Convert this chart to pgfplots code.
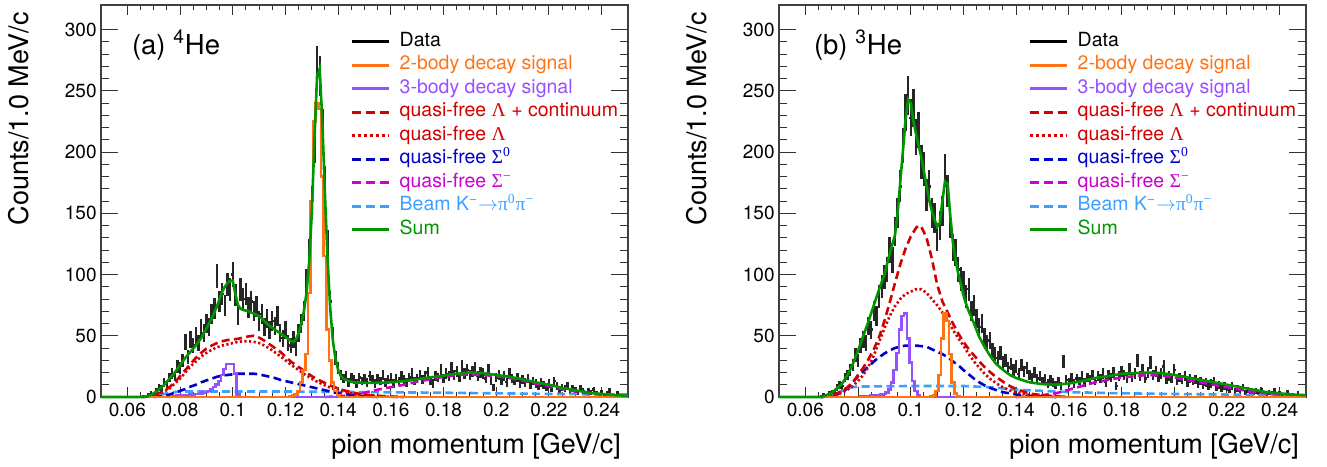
\documentclass[border=0pt]{standalone}
\usepackage{fontspec}
\setmainfont{TeX Gyre Heros}
\newfontfamily\grk{Liberation Serif}
\usepackage{pgfplots}
\pgfplotsset{compat=1.18}
\usepackage{xcolor}
\definecolor{corange}{RGB}{255,115,20}
\definecolor{cpurple}{RGB}{150,80,255}
\definecolor{cred}{RGB}{210,0,0}
\definecolor{cblue}{RGB}{0,0,200}
\definecolor{cmag}{RGB}{205,0,205}
\definecolor{cazure}{RGB}{60,160,255}
\definecolor{cgreen}{RGB}{0,150,0}

\pgfplotsset{
  he/.style={
    scale only axis, width=263.5pt, height=196pt,
    xmin=50, xmax=250, ymin=0, ymax=320, clip=false,
    xtick={60,80,...,240},
    xticklabels={0.06,0.08,0.1,0.12,0.14,0.16,0.18,0.2,0.22,0.24},
    minor x tick num=3,
    ytick={0,50,...,300}, minor y tick num=4,
    tick align=inside, tick pos=both,
    xtick style={/pgfplots/major tick length=5pt,/pgfplots/minor tick length=2.5pt},
    ytick style={/pgfplots/major tick length=8.5pt,/pgfplots/minor tick length=4pt},
    every tick/.append style={black!80, line width=0.5pt},
    axis line style={black!75, line width=0.6pt},
    /pgf/number format/assume math mode=true,
    xticklabel style={font=\fontsize{9.5}{11}\selectfont, inner sep=0pt, yshift=-3pt},
    yticklabel style={font=\fontsize{9.5}{11}\selectfont, inner sep=0pt, xshift=-2pt},
    every axis y label/.style={at={(axis description cs:-0.1556,1)}, rotate=90, anchor=east,
      font=\fontsize{13.5}{16}\selectfont},
    every axis x label/.style={at={(axis description cs:1,-0.1429)}, anchor=base east,
      font=\fontsize{13.5}{16}\selectfont},
    xlabel={pion momentum [GeV/c]},
    ylabel={Counts/1.0 MeV/c},
    legend image code/.code={\draw[##1] (0pt,0pt) -- (18.5pt,0pt);},
    legend cell align=left,
    legend style={draw=none, fill=none, at={(rel axis cs:0.4725,0.936)}, anchor=north west,
      inner sep=0pt, outer sep=0pt, font=\fontsize{9.75}{11}\selectfont,
      row sep=0pt, column sep=0pt,
      nodes={inner ysep=0pt, inner xsep=4.75pt, text height=8.2pt, text depth=3.55pt}},
  },
  dat/.style={draw=none, mark=none, forget plot,
    error bars/.cd, x dir=both, x fixed=0.5, y dir=both, y explicit, error mark=none,
    error bar style={draw=black!85, solid, line width=1.2pt}},
  cv/.style={line width=1.3pt, forget plot},
  dsh/.style={dash pattern=on 4pt off 2.2pt},
  dot/.style={dash pattern=on 1.1pt off 1.2pt},
}

\newcommand\hlegend{%
  \addlegendimage{black, line width=1.6pt}
  \addlegendentry{Data}
  \addlegendimage{corange, line width=1.6pt}
  \addlegendentry{\textcolor{corange}{2-body decay signal}}
  \addlegendimage{cpurple, line width=1.6pt}
  \addlegendentry{\textcolor{cpurple}{3-body decay signal}}
  \addlegendimage{cred, line width=1.6pt, dash pattern=on 4.5pt off 2.5pt}
  \addlegendentry{\textcolor{cred}{quasi-free {\grk Λ} + continuum}}
  \addlegendimage{cred, line width=1.6pt, dash pattern=on 1.5pt off 1.5pt}
  \addlegendentry{\textcolor{cred}{quasi-free {\grk Λ}}}
  \addlegendimage{cblue, line width=1.6pt, dash pattern=on 4.5pt off 2.5pt}
  \addlegendentry{\textcolor{cblue}{quasi-free {\grk Σ\textsuperscript{0}}}}
  \addlegendimage{cmag, line width=1.6pt, dash pattern=on 4.5pt off 2.5pt}
  \addlegendentry{\textcolor{cmag}{quasi-free {\grk Σ\textsuperscript{−}}}}
  \addlegendimage{cazure, line width=1.6pt, dash pattern=on 4.5pt off 2.5pt}
  \addlegendentry{\textcolor{cazure}{Beam K\textsuperscript{−}$\to${\grk π\textsuperscript{0}π\textsuperscript{−}}}}
  \addlegendimage{cgreen, line width=1.6pt}
  \addlegendentry{\textcolor{cgreen}{Sum}}
}

\begin{document}
\begin{tikzpicture}
\useasboundingbox (0,0) rectangle (663.5pt,233pt);

% ---------------- (a) 4He ----------------
\begin{axis}[he, anchor=south west, at={(50.5pt,34.5pt)}]
\addplot[dat] table[row sep=\\, y error expr={sqrt(\thisrow{y})}] {x y\\
65 0\\66 1\\67 0\\68 2\\69 3\\70 2\\71 5\\72 8\\73 7\\74 12\\75 10\\76 16\\77 19\\78 17\\79 25\\
80 24\\81 30\\82 45\\83 33\\84 47\\85 42\\86 50\\87 44\\88 56\\89 52\\90 60\\91 57\\92 68\\93 72\\94 99\\
95 78\\96 84\\97 75\\98 92\\99 88\\100 100\\101 83\\102 67\\103 88\\104 80\\105 84\\106 73\\107 78\\108 70\\109 74\\
110 62\\111 68\\112 57\\113 64\\114 55\\115 62\\116 58\\117 66\\118 52\\119 48\\120 55\\121 44\\122 42\\123 47\\124 40\\
125 52\\126 60\\127 70\\128 95\\129 118\\130 160\\131 205\\132 270\\133 262\\134 220\\135 175\\136 125\\137 78\\138 50\\139 32\\
140 24\\141 18\\142 15\\143 17\\144 12\\145 16\\146 14\\147 11\\148 16\\149 13\\150 15\\151 12\\152 17\\153 14\\154 11\\
155 15\\156 13\\157 18\\158 12\\159 14\\160 16\\161 11\\162 15\\163 13\\164 17\\165 14\\166 12\\167 16\\168 19\\169 13\\
170 15\\171 18\\172 14\\173 17\\174 20\\175 13\\176 11\\177 17\\178 16\\179 22\\180 15\\181 19\\182 17\\183 24\\184 18\\
185 21\\186 16\\187 25\\188 19\\189 22\\190 18\\191 21\\192 24\\193 17\\194 20\\195 19\\196 15\\197 22\\198 13\\199 8\\
200 16\\201 18\\202 13\\203 17\\204 12\\205 19\\206 15\\207 13\\208 16\\209 11\\210 14\\211 12\\212 15\\213 10\\214 13\\
215 11\\216 9\\217 12\\218 10\\219 8\\220 11\\221 7\\222 13\\223 9\\224 6\\225 8\\226 7\\227 9\\228 5\\229 7\\
230 6\\231 4\\232 7\\233 5\\234 3\\235 5\\236 4\\237 6\\238 3\\239 2\\240 4\\241 2\\242 3\\243 5\\244 2\\
245 1\\246 3\\247 2\\248 1\\249 2\\};
% beam K- -> pi0 pi-
\addplot[cv, cazure, dsh] table[row sep=\\] {x y\\
68 0\\70 0.5\\72 1\\74 2.5\\76 3.5\\78 4\\80 4.5\\120 4.5\\150 4\\180 3.5\\200 3\\220 2.5\\250 2\\};
% quasi-free Sigma-
\addplot[cv, cmag, dsh] table[row sep=\\] {x y\\
135 0\\140 0.5\\145 1.5\\150 3.5\\155 6\\160 8\\165 10\\170 12.5\\175 14.5\\180 16.5\\185 18\\190 18.5\\
195 18\\200 17\\205 15.5\\210 13.5\\215 11\\220 9\\225 6.5\\230 4.5\\235 3\\240 2\\245 1.2\\250 0.6\\};
% quasi-free Sigma0
\addplot[cv, cblue, dsh] table[row sep=\\] {x y\\
70 0\\72 0.5\\74 1\\76 2\\78 3.5\\80 5\\82 6.5\\84 8.5\\86 10\\88 12\\90 13.5\\92 15\\94 16.5\\96 17.5\\98 18\\
100 18.5\\102 19\\104 19\\106 19\\108 19\\110 18.5\\112 17.5\\114 16.5\\116 15.5\\118 14\\120 13\\122 12\\
124 11\\126 10\\128 9\\130 8\\132 7\\134 6\\136 5\\138 4\\140 3\\142 2.5\\144 2\\146 1.5\\148 1\\150 0.5\\155 0\\};
% quasi-free Lambda
\addplot[cv, cred, dot] table[row sep=\\] {x y\\
66 0\\70 1\\72 2.5\\74 4.5\\76 7\\78 11\\80 15\\82 20\\84 25\\86 29\\88 33\\90 36\\92 38.5\\94 40.5\\96 42\\
98 43\\100 44\\102 45\\104 45.5\\106 45.5\\108 45\\110 44\\112 42\\114 39.5\\116 36.5\\118 33.5\\120 30\\
122 26.5\\124 23.5\\126 20.5\\128 17.5\\130 15\\132 12.5\\134 10.5\\136 8.5\\138 7\\140 5.5\\142 4.5\\
144 3.5\\146 2.5\\148 2\\150 1.5\\155 0.7\\160 0.2\\165 0\\};
% quasi-free Lambda + continuum
\addplot[cv, cred, dsh] table[row sep=\\] {x y\\
66 0\\68 0.5\\70 1\\72 3\\74 5\\76 8\\78 12\\80 17\\82 22\\84 27\\86 32\\88 36\\90 39.5\\92 42\\94 44\\
96 45.5\\98 46.5\\100 47\\102 47.5\\104 48.5\\106 49.5\\108 50\\110 48.5\\112 46\\114 43\\116 40\\118 37\\
120 33\\122 29\\124 26\\126 23\\128 20\\130 17\\132 14.5\\134 12.5\\136 10.5\\138 8.5\\140 7\\142 5.5\\
144 4.5\\146 3.5\\148 2.5\\150 2\\155 1\\160 0.3\\165 0\\};
% 3-body decay
\addplot[cv, cpurple, const plot mark mid] table[row sep=\\] {x y\\
70 0\\76 0\\77 0.5\\78 0.5\\79 1\\80 1\\81 1\\82 1.5\\83 1.5\\84 2\\85 2\\86 2.5\\87 2.5\\88 3\\89 3.5\\
90 4\\91 5\\92 6.5\\93 8\\94 10\\95 13\\96 18\\97 23\\98 27\\99 27\\100 27\\101 19\\102 2\\103 0\\145 0\\};
% 2-body decay
\addplot[cv, corange, const plot mark mid] table[row sep=\\] {x y\\
68 0\\121 0\\122 0.5\\123 1\\124 2\\125 5\\126 12\\127 22\\128 35\\129 85\\130 160\\131 225\\132 240\\
133 235\\134 180\\135 115\\136 55\\137 30\\138 12\\139 5\\140 1.5\\141 0\\250 0\\};
% sum
\addplot[cv, cgreen] table[row sep=\\] {x y\\
50 0\\66 0\\68 1\\70 3\\72 6\\74 10\\76 15\\78 20\\80 26\\82 32\\84 37\\86 42\\88 48\\90 56\\92 64\\94 74\\
95 80\\96 86\\97 90\\98 93\\99 95\\100 95\\101 84\\102 75\\103 72\\104 71\\106 70\\108 68\\110 66\\112 62\\
114 58\\116 55\\118 52\\120 49\\122 46\\123 45\\124 47\\125 52\\126 60\\127 70\\128 85\\129 110\\130 150\\
131 210\\132 262\\133 268\\134 225\\135 165\\136 112\\137 72\\138 46\\139 31\\140 22\\141 17\\142 15\\
144 13\\146 12\\150 11.5\\155 11.5\\160 12\\165 13\\170 14.5\\175 16\\180 17.5\\185 19\\190 20\\195 19.5\\
200 18\\205 16.5\\210 14.5\\215 12\\220 10\\225 7.5\\230 5.5\\235 3.5\\240 2.5\\245 1.5\\250 1\\};
\hlegend
\node[anchor=base west, font=\fontsize{13.75}{16}\selectfont] at (rel axis cs:0.0455,0.875) {(a) \textsuperscript{4}He};
\end{axis}

% ---------------- (b) 3He ----------------
\begin{axis}[he, anchor=south west, at={(389.5pt,34.5pt)}]
\addplot[dat] table[row sep=\\, y error expr={sqrt(\thisrow{y})}] {x y\\
65 0\\66 1\\67 2\\68 1\\69 3\\70 4\\71 3\\72 8\\73 10\\74 9\\75 16\\76 18\\77 22\\78 26\\79 34\\
80 30\\81 42\\82 47\\83 44\\84 58\\85 55\\86 70\\87 66\\88 82\\89 90\\90 98\\91 104\\92 120\\93 112\\94 135\\
95 150\\96 172\\97 205\\98 232\\99 246\\100 228\\101 236\\102 212\\103 218\\104 192\\105 186\\106 165\\107 172\\108 150\\109 146\\
110 131\\111 140\\112 152\\113 185\\114 168\\115 142\\116 122\\117 118\\118 104\\119 96\\120 93\\121 82\\122 88\\123 70\\124 75\\
125 64\\126 57\\127 60\\128 49\\129 44\\130 46\\131 38\\132 35\\133 32\\134 36\\135 28\\136 30\\137 24\\138 27\\139 22\\
140 25\\141 19\\142 26\\143 21\\144 24\\145 18\\146 16\\147 20\\148 15\\149 17\\150 13\\151 15\\152 11\\153 14\\154 12\\
155 10\\156 13\\157 9\\158 29\\159 14\\160 12\\161 16\\162 11\\163 15\\164 13\\165 17\\166 12\\167 16\\168 14\\169 18\\
170 13\\171 17\\172 15\\173 19\\174 12\\175 18\\176 16\\177 20\\178 9\\179 17\\180 21\\181 18\\182 15\\183 23\\184 16\\
185 19\\186 30\\187 17\\188 22\\189 15\\190 20\\191 28\\192 18\\193 21\\194 16\\195 19\\196 25\\197 14\\198 17\\199 15\\
200 22\\201 13\\202 16\\203 14\\204 17\\205 12\\206 15\\207 13\\208 14\\209 11\\210 13\\211 10\\212 12\\213 9\\214 11\\
215 13\\216 8\\217 10\\218 7\\219 9\\220 8\\221 6\\222 9\\223 5\\224 7\\225 6\\226 8\\227 4\\228 6\\229 5\\
230 3\\231 5\\232 4\\233 6\\234 3\\235 2\\236 4\\237 3\\238 5\\239 2\\240 3\\241 1\\242 2\\243 4\\244 1\\
245 2\\246 1\\247 3\\248 1\\249 0\\};
% beam K- -> pi0 pi-
\addplot[cv, cazure, dsh] table[row sep=\\] {x y\\
68 0\\70 1\\72 3\\74 5\\76 7\\78 8\\80 8.5\\100 9\\120 9\\125 8.5\\130 8\\135 7\\140 6\\150 5\\160 4\\
180 3\\200 2.5\\220 2\\250 1\\};
% quasi-free Sigma-
\addplot[cv, cmag, dsh] table[row sep=\\] {x y\\
140 0\\145 0.5\\150 1.5\\155 3\\160 6\\165 9\\170 12\\175 14\\180 16\\185 17\\190 18\\195 17.5\\200 16\\
205 14\\210 12\\215 10\\220 8\\225 6\\230 4\\235 3\\240 2\\245 1.2\\250 0.7\\};
% quasi-free Sigma0
\addplot[cv, cblue, dsh] table[row sep=\\] {x y\\
66 0\\68 0.5\\70 1\\72 2\\74 4\\76 7\\78 12\\80 17\\82 21\\84 25\\86 29\\88 32.5\\90 35.5\\92 38\\94 40\\
96 41\\98 42\\100 42\\102 42\\104 41.5\\106 41\\108 39\\110 37\\112 35\\114 32.5\\116 29\\118 26\\120 22\\
122 18.5\\124 15\\126 12\\128 9.5\\130 7.5\\132 6\\134 4.5\\136 3.5\\138 3\\140 2\\144 1\\148 0.5\\155 0\\};
% quasi-free Lambda
\addplot[cv, cred, dot] table[row sep=\\] {x y\\
66 0\\70 1\\72 2\\74 3.5\\76 6\\78 9\\80 13\\82 18\\84 25\\86 34\\88 45\\90 56\\92 66\\94 74\\96 80\\
98 84\\100 86\\102 88\\104 88\\106 85\\108 80\\110 75\\112 69\\114 62\\116 55\\118 48\\120 42\\122 35\\
124 29\\126 24\\128 19\\130 15\\132 12\\134 9\\136 7\\138 5\\140 4\\142 3\\144 2\\146 1.5\\150 0.8\\
155 0.2\\160 0\\};
% quasi-free Lambda + continuum
\addplot[cv, cred, dsh] table[row sep=\\] {x y\\
66 0\\68 0.5\\70 1.5\\72 3\\74 5\\76 8\\78 12\\80 18\\82 24\\84 31\\86 39\\88 49\\90 62\\92 77\\94 93\\
96 108\\98 121\\100 131\\102 138\\103 140\\104 139\\106 130\\108 113\\110 92\\112 78\\114 69\\116 60\\
118 52\\120 45\\122 39\\124 34\\126 29\\128 24.5\\130 20.5\\132 17\\134 14\\136 11\\138 8.5\\140 6.5\\
142 5\\144 3.5\\146 2.5\\148 2\\150 1.5\\155 0.5\\160 0\\};
% 3-body decay
\addplot[cv, cpurple, const plot mark mid] table[row sep=\\] {x y\\
70 0\\80 0\\82 0.5\\84 0.5\\85 1\\86 1\\87 1.5\\88 1.5\\89 2\\90 2.5\\91 3.5\\92 6\\93 12\\94 22\\95 36\\
96 55\\97 66\\98 68\\99 48\\100 28\\101 13\\102 5\\103 1.5\\104 0\\140 0\\};
% 2-body decay
\addplot[cv, corange, const plot mark mid] table[row sep=\\] {x y\\
66 0\\107 0\\108 0.3\\109 1\\110 5\\111 18\\112 48\\113 68\\114 62\\115 35\\116 12\\117 3\\118 0.5\\
119 0\\250 0\\};
% sum
\addplot[cv, cgreen] table[row sep=\\] {x y\\
50 0\\66 0\\68 1.5\\70 3.5\\72 7\\74 11\\76 18\\78 27\\80 38\\82 50\\84 62\\86 75\\88 88\\90 100\\92 117\\
94 132\\95 150\\96 175\\97 200\\98 226\\99 243\\100 240\\101 225\\102 215\\103 205\\104 196\\105 184\\
106 172\\107 161\\108 152\\109 145\\110 139\\111 142\\112 160\\113 176\\114 174\\115 148\\116 126\\117 112\\
118 101\\119 92\\120 83\\121 76\\122 70\\124 60\\126 49\\128 41\\130 34\\132 28\\134 24\\136 20.5\\
138 17.5\\140 15.5\\142 14\\145 12\\150 10.5\\155 10\\160 11\\165 13\\170 15.5\\175 17\\180 19\\185 19.5\\
190 20\\195 19.5\\200 18\\205 16\\210 14\\215 12\\220 10\\225 8\\230 6\\235 4\\240 3\\245 2\\250 1.5\\};
\hlegend
\node[anchor=base west, font=\fontsize{13.75}{16}\selectfont] at (rel axis cs:0.053,0.875) {(b) \textsuperscript{3}He};
\end{axis}
\end{tikzpicture}
\end{document}
